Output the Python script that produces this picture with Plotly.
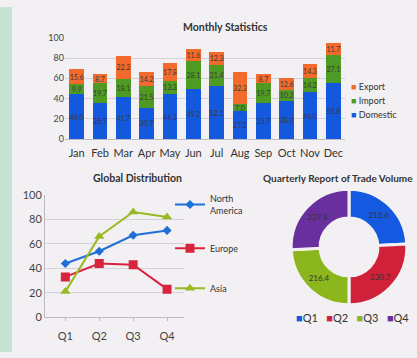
import plotly.graph_objects as go

W, H = 417, 358

months = ["Jan", "Feb", "Mar", "Apr", "May", "Jun", "Jul", "Aug", "Sep", "Oct", "Nov", "Dec"]
domestic = [44.0, 35.7, 41.7, 30.7, 44.3, 49.2, 52.1, 27.2, 35.7, 38.0, 46.0, 55.8]
imports = [9.9, 19.7, 18.1, 21.5, 13.3, 28.1, 21.4, 7.0, 19.7, 10.2, 14.2, 27.1]
exports = [15.6, 8.7, 22.2, 14.2, 17.8, 11.6, 12.3, 32.3, 8.7, 12.6, 14.3, 11.7]
bar_ticks = [0, 20, 40, 60, 80, 100]
bar_series = ["Domestic", "Import", "Export"]
bar_colors = ["#1458de", "#4f9a22", "#f26a2c"]

quarters = ["Q1", "Q2", "Q3", "Q4"]
north_america = [44, 54, 67, 71]
europe = [33, 44, 43, 23]
asia = [21, 66, 86, 82]
line_ticks = [0, 20, 40, 60, 80, 100]

donut_labels = ["Q1", "Q2", "Q3", "Q4"]
donut_values = [215.6, 230.7, 216.4, 229.8]
donut_colors = ["#1559e0", "#d1213a", "#8bb71d", "#6a2f9f"]

FONT = "Lato"
BG = "#f2f0f3"

def px(x):
    return x / W

def py(y):
    return 1 - y / H

fig = go.Figure()

# Monthly stacked bars
for name, vals, col in zip(bar_series, [domestic, imports, exports], bar_colors):
    fig.add_trace(go.Bar(
        x=months, y=vals, name=name, marker=dict(color=col, line=dict(width=0)),
        text=[f"{v:.1f}" for v in vals], textposition="inside",
        insidetextanchor="middle", textangle=0, constraintext="none",
        textfont=dict(size=7, color="#3a3a3a", family=FONT),
        xaxis="x", yaxis="y", showlegend=False, hoverinfo="skip"))

# Global distribution lines
for name, vals, col, sym, sz in [("North<br>America", north_america, "#1f6fd6", "diamond", 7),
                                 ("Europe", europe, "#d8233c", "square", 9),
                                 ("Asia", asia, "#98b920", "triangle-up", 9)]:
    fig.add_trace(go.Scatter(
        x=quarters, y=vals, name=name, mode="lines+markers",
        line=dict(color=col, width=2), marker=dict(symbol=sym, size=sz, color=col),
        xaxis="x2", yaxis="y2", legend="legend2", legendgroup=name))

# Donut
fig.add_trace(go.Pie(
    labels=donut_labels, values=donut_values, hole=0.5, sort=False,
    direction="clockwise", rotation=0,
    marker=dict(colors=donut_colors, line=dict(color=BG, width=3)),
    texttemplate="%{value:.1f}", textposition="inside",
    insidetextorientation="horizontal",
    textfont=dict(size=8, color="#333333", family=FONT),
    domain=dict(x=[px(289), px(409)], y=[py(309), py(189)]),
    showlegend=False, hoverinfo="skip"))

annotations = [
    dict(text="<b>Monthly Statistics</b>", x=px(226), y=py(21), xref="paper", yref="paper",
         xanchor="center", yanchor="middle",
         showarrow=False, font=dict(size=10.5, color="#333333")),
    dict(text="<b>Global Distribution</b>", x=px(137), y=py(177), xref="paper", yref="paper",
         xanchor="center", yanchor="middle",
         showarrow=False, font=dict(size=10.5, color="#333333")),
    dict(text="<b>Quarterly Report of Trade Volume</b>", x=px(338), y=py(177), xref="paper",
         yref="paper", xanchor="center", yanchor="middle",
         showarrow=False, font=dict(size=10, color="#333333")),
]

# Bar legend (Export, Import, Domestic from top)
for i, (name, col) in enumerate(zip(reversed(bar_series), reversed(bar_colors))):
    annotations.append(dict(
        text=f"<span style='color:{col}'>■</span> {name}", x=px(349), y=py(82 + 15 * i),
        xref="paper", yref="paper", xanchor="left", yanchor="middle", showarrow=False,
        font=dict(size=9, color="#333333")))

# Donut legend
donut_leg = "   ".join(f"<span style='color:{c}'>■</span>{l}" for l, c in zip(donut_labels, donut_colors))
annotations.append(dict(
    text=donut_leg, x=px(352), y=py(322), xref="paper", yref="paper",
    xanchor="center", yanchor="middle", showarrow=False,
    font=dict(size=11, color="#333333")))

grid = "#d4d2d6"
fig.update_layout(
    width=W, height=H, margin=dict(l=0, r=0, t=0, b=0),
    paper_bgcolor=BG, plot_bgcolor=BG, barmode="stack", bargap=0.36,
    font=dict(family=FONT, color="#333333"),
    xaxis=dict(domain=[px(65), px(345)], range=[-0.5, 11.5], anchor="y",
               tickfont=dict(size=11, color="#333333"), tickangle=0, showline=True,
               linecolor="#bdbbc0", ticks="", ticklabelstandoff=4),
    yaxis=dict(domain=[py(137), py(32)], range=[0, 100], tickvals=bar_ticks,
               anchor="x", showgrid=True, gridcolor=grid, zeroline=False,
               tickfont=dict(size=9, color="#444444")),
    xaxis2=dict(domain=[px(45), px(184)], range=[-0.6, 3.5], anchor="y2",
                tickfont=dict(size=11, color="#444444"), showline=True, tickangle=0,
                linecolor="#bdbbc0", ticks="outside", ticklen=3, tickcolor="#bdbbc0",
                showgrid=False, ticklabelstandoff=5),
    yaxis2=dict(domain=[py(322), py(195)], range=[0, 100], tickvals=line_ticks,
                anchor="x2", showgrid=True, gridcolor=grid, zeroline=False,
                showline=True, linecolor="#bdbbc0",
                tickfont=dict(size=11, color="#444444")),
    legend2=dict(x=px(170), y=py(186), xanchor="left", yanchor="top",
                 traceorder="grouped", tracegroupgap=21,
                 font=dict(size=9, color="#333333"), bgcolor="rgba(0,0,0,0)",
                 itemwidth=30),
    shapes=[dict(type="rect", xref="paper", yref="paper", x0=0, x1=px(12), y0=0, y1=1,
                 fillcolor="#c6e4d4", line=dict(width=0), layer="below")],
    annotations=annotations,
)

fig.write_html("out.html")
